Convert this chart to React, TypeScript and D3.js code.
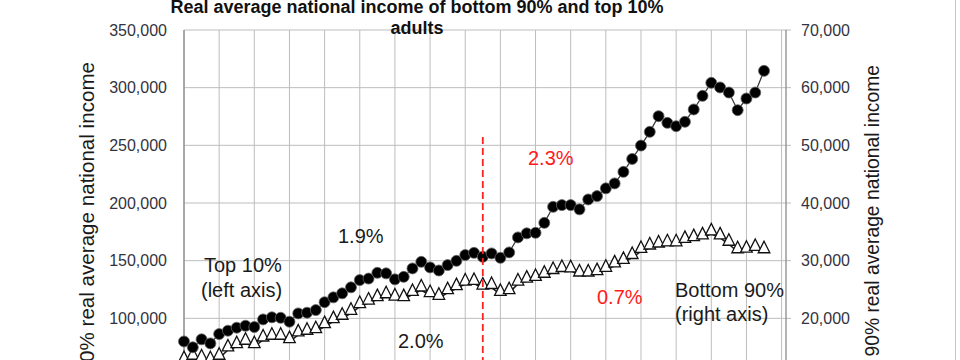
import React from "react";
import * as d3 from "d3";

const years = [
  1946, 1947, 1948, 1949, 1950, 1951, 1952, 1953, 1954, 1955,
  1956, 1957, 1958, 1959, 1960, 1961, 1962, 1963, 1964, 1965,
  1966, 1967, 1968, 1969, 1970, 1971, 1972, 1973, 1974, 1975,
  1976, 1977, 1978, 1979, 1980, 1981, 1982, 1983, 1984, 1985,
  1986, 1987, 1988, 1989, 1990, 1991, 1992, 1993, 1994, 1995,
  1996, 1997, 1998, 1999, 2000, 2001, 2002, 2003, 2004, 2005,
  2006, 2007, 2008, 2009, 2010, 2011, 2012,
];

const top10 = [
  80000, 74900, 81800, 78300, 86400, 89300, 91900, 93600, 92500, 99100,
  100900, 100500, 97100, 104300, 104900, 107200, 114000, 118200, 121700, 126900,
  133200, 134500, 139500, 139000, 133800, 136000, 143300, 149000, 144200, 141500,
  146200, 149900, 154900, 156800, 153400, 156300, 152500, 157200, 170200, 173700,
  174200, 182800, 196700, 198200, 198200, 194500, 203100, 206000, 212700, 217000,
  227000, 238200, 249800, 261700, 275300, 269500, 266600, 270400, 281100, 292900,
  304200, 300200, 295800, 280500, 290600, 295800, 314600,
];

const bottom90 = [
  12500, 13080, 12790, 12490, 13080, 14520, 15090, 15680, 15090, 16250,
  16550, 16550, 15960, 17120, 17420, 17690, 18560, 19430, 20020, 20880,
  22050, 22650, 23250, 23750, 23350, 23250, 24150, 24920, 23950, 23480,
  24450, 25150, 25950, 26050, 25250, 25350, 24150, 24450, 25950, 26450,
  26750, 27300, 27950, 28300, 28250, 27520, 27520, 27750, 28330, 29100,
  29700, 30550, 31600, 32200, 32550, 32750, 32750, 33350, 33650, 33950,
  34650, 33950, 32850, 31550, 31650, 31950, 31550,
];

const xGridYears = [1946, 1950, 1954, 1958, 1962, 1966, 1970, 1974, 1978, 1982, 1986, 1990, 1994, 1998, 2002, 2006, 2010, 2014];
const leftTicks = [0, 50000, 100000, 150000, 200000, 250000, 300000, 350000];
const leftTickLabels = [100000, 150000, 200000, 250000, 300000, 350000];
const rightTickLabels = [20000, 30000, 40000, 50000, 60000, 70000];
const splitYear = 1980;

const titleLines = ["Real average national income of bottom 90% and top 10%", "adults"];
const leftAxisTitle = "Top 10% real average national income";
const rightAxisTitle = "Bottom 90% real average national income";

const FONT = "'Liberation Sans', Arial, sans-serif";

export default function App() {
  const x = d3.scaleLinear().domain([1946, 2014.5]).range([184, 786]);
  const yL = d3.scaleLinear().domain([0, 350000]).range([433.7, 30]);
  const yR = d3.scaleLinear().domain([0, 70000]).range([433.7, 30]);
  const fmt = d3.format(",");

  const topLine = d3.line<number>().x((_, i) => x(years[i])).y((d) => yL(d))(top10) || "";
  const botLine = d3.line<number>().x((_, i) => x(years[i])).y((d) => yR(d))(bottom90) || "";

  const plotTop = yL(350000);
  const plotBottom = yL(0);

  return (
    <svg
      width={960}
      height={360}
      style={{ position: "absolute", left: 0, top: 0, background: "#fff" }}
      fontFamily={FONT}
    >
      <rect x={0} y={0} width={960} height={360} fill="#fff" />
      <line x1={955.5} x2={955.5} y1={0} y2={360} stroke="#c8c8c8" strokeWidth={1} />

      {/* gridlines */}
      {xGridYears.map((yr) => (
        <line key={"vg" + yr} x1={x(yr)} x2={x(yr)} y1={plotTop} y2={plotBottom} stroke="#bdbdbd" strokeWidth={1} />
      ))}
      {leftTicks.map((t) => (
        <line key={"hg" + t} x1={x(1946)} x2={x(2014.5) + 5} y1={yL(t)} y2={yL(t)} stroke="#bdbdbd" strokeWidth={1} />
      ))}
      {/* axes */}
      <line x1={x(1946)} x2={x(1946)} y1={plotTop} y2={plotBottom} stroke="#8a8a8a" strokeWidth={1.3} />
      <line x1={x(2014.5)} x2={x(2014.5)} y1={plotTop} y2={plotBottom} stroke="#8a8a8a" strokeWidth={1.3} />

      {/* tick labels */}
      {leftTickLabels.map((t) => (
        <text key={"lt" + t} x={167} y={yL(t)} dy="0.35em" textAnchor="end" fontSize={16} fill="#333340">
          {fmt(t)}
        </text>
      ))}
      {rightTickLabels.map((t) => (
        <text key={"rt" + t} x={801} y={yR(t)} dy="0.35em" textAnchor="start" fontSize={16} fill="#333340">
          {fmt(t)}
        </text>
      ))}

      {/* axis titles */}
      <text transform="translate(94,62) rotate(-90)" textAnchor="end" fontSize={20.6} fill="#1a1a1a">
        {leftAxisTitle}
      </text>
      <text transform="translate(879,65) rotate(-90)" textAnchor="end" fontSize={19.3} fill="#1a1a1a">
        {rightAxisTitle}
      </text>

      {/* title */}
      <text x={417} y={13} textAnchor="middle" fontSize={18} fontWeight="bold" fill="#111">
        {titleLines[0]}
      </text>
      <text x={417} y={34} textAnchor="middle" fontSize={18} fontWeight="bold" fill="#111">
        {titleLines[1]}
      </text>

      {/* bottom 90% series */}
      <path d={botLine} fill="none" stroke="#222" strokeWidth={1.6} />
      {bottom90.map((v, i) => (
        <path
          key={"tri" + i}
          transform={`translate(${x(years[i])},${yR(v)})`}
          d="M0,-10.5 L5.8,1 L-5.8,1 Z"
          fill="#fff"
          stroke="#111"
          strokeWidth={1.3}
          strokeLinejoin="miter"
        />
      ))}

      {/* top 10% series */}
      <path d={topLine} fill="none" stroke="#333" strokeWidth={1.2} />
      {top10.map((v, i) => (
        <circle key={"c" + i} cx={x(years[i])} cy={yL(v)} r={5.5} fill="#000" stroke="#666" strokeWidth={0.8} />
      ))}

      {/* split line */}
      <line
        x1={x(splitYear)}
        x2={x(splitYear)}
        y1={137}
        y2={plotBottom}
        stroke="#ff2020"
        strokeWidth={1.8}
        strokeDasharray="7,4"
      />

      {/* annotations */}
      <text x={204} y={272} fontSize={20} fill="#1a1a1a">Top 10%</text>
      <text x={201} y={297} fontSize={20} fill="#1a1a1a">(left axis)</text>
      <text x={338} y={243} fontSize={20} fill="#1a1a1a">1.9%</text>
      <text x={398} y={348} fontSize={20} fill="#1a1a1a">2.0%</text>
      <text x={528} y={165} fontSize={20} fill="#ff1a1a">2.3%</text>
      <text x={597} y={304} fontSize={20} fill="#ff1a1a">0.7%</text>
      <text x={675} y={297} fontSize={20} fill="#1a1a1a">Bottom 90%</text>
      <text x={675} y={321} fontSize={20} fill="#1a1a1a">(right axis)</text>
    </svg>
  );
}
